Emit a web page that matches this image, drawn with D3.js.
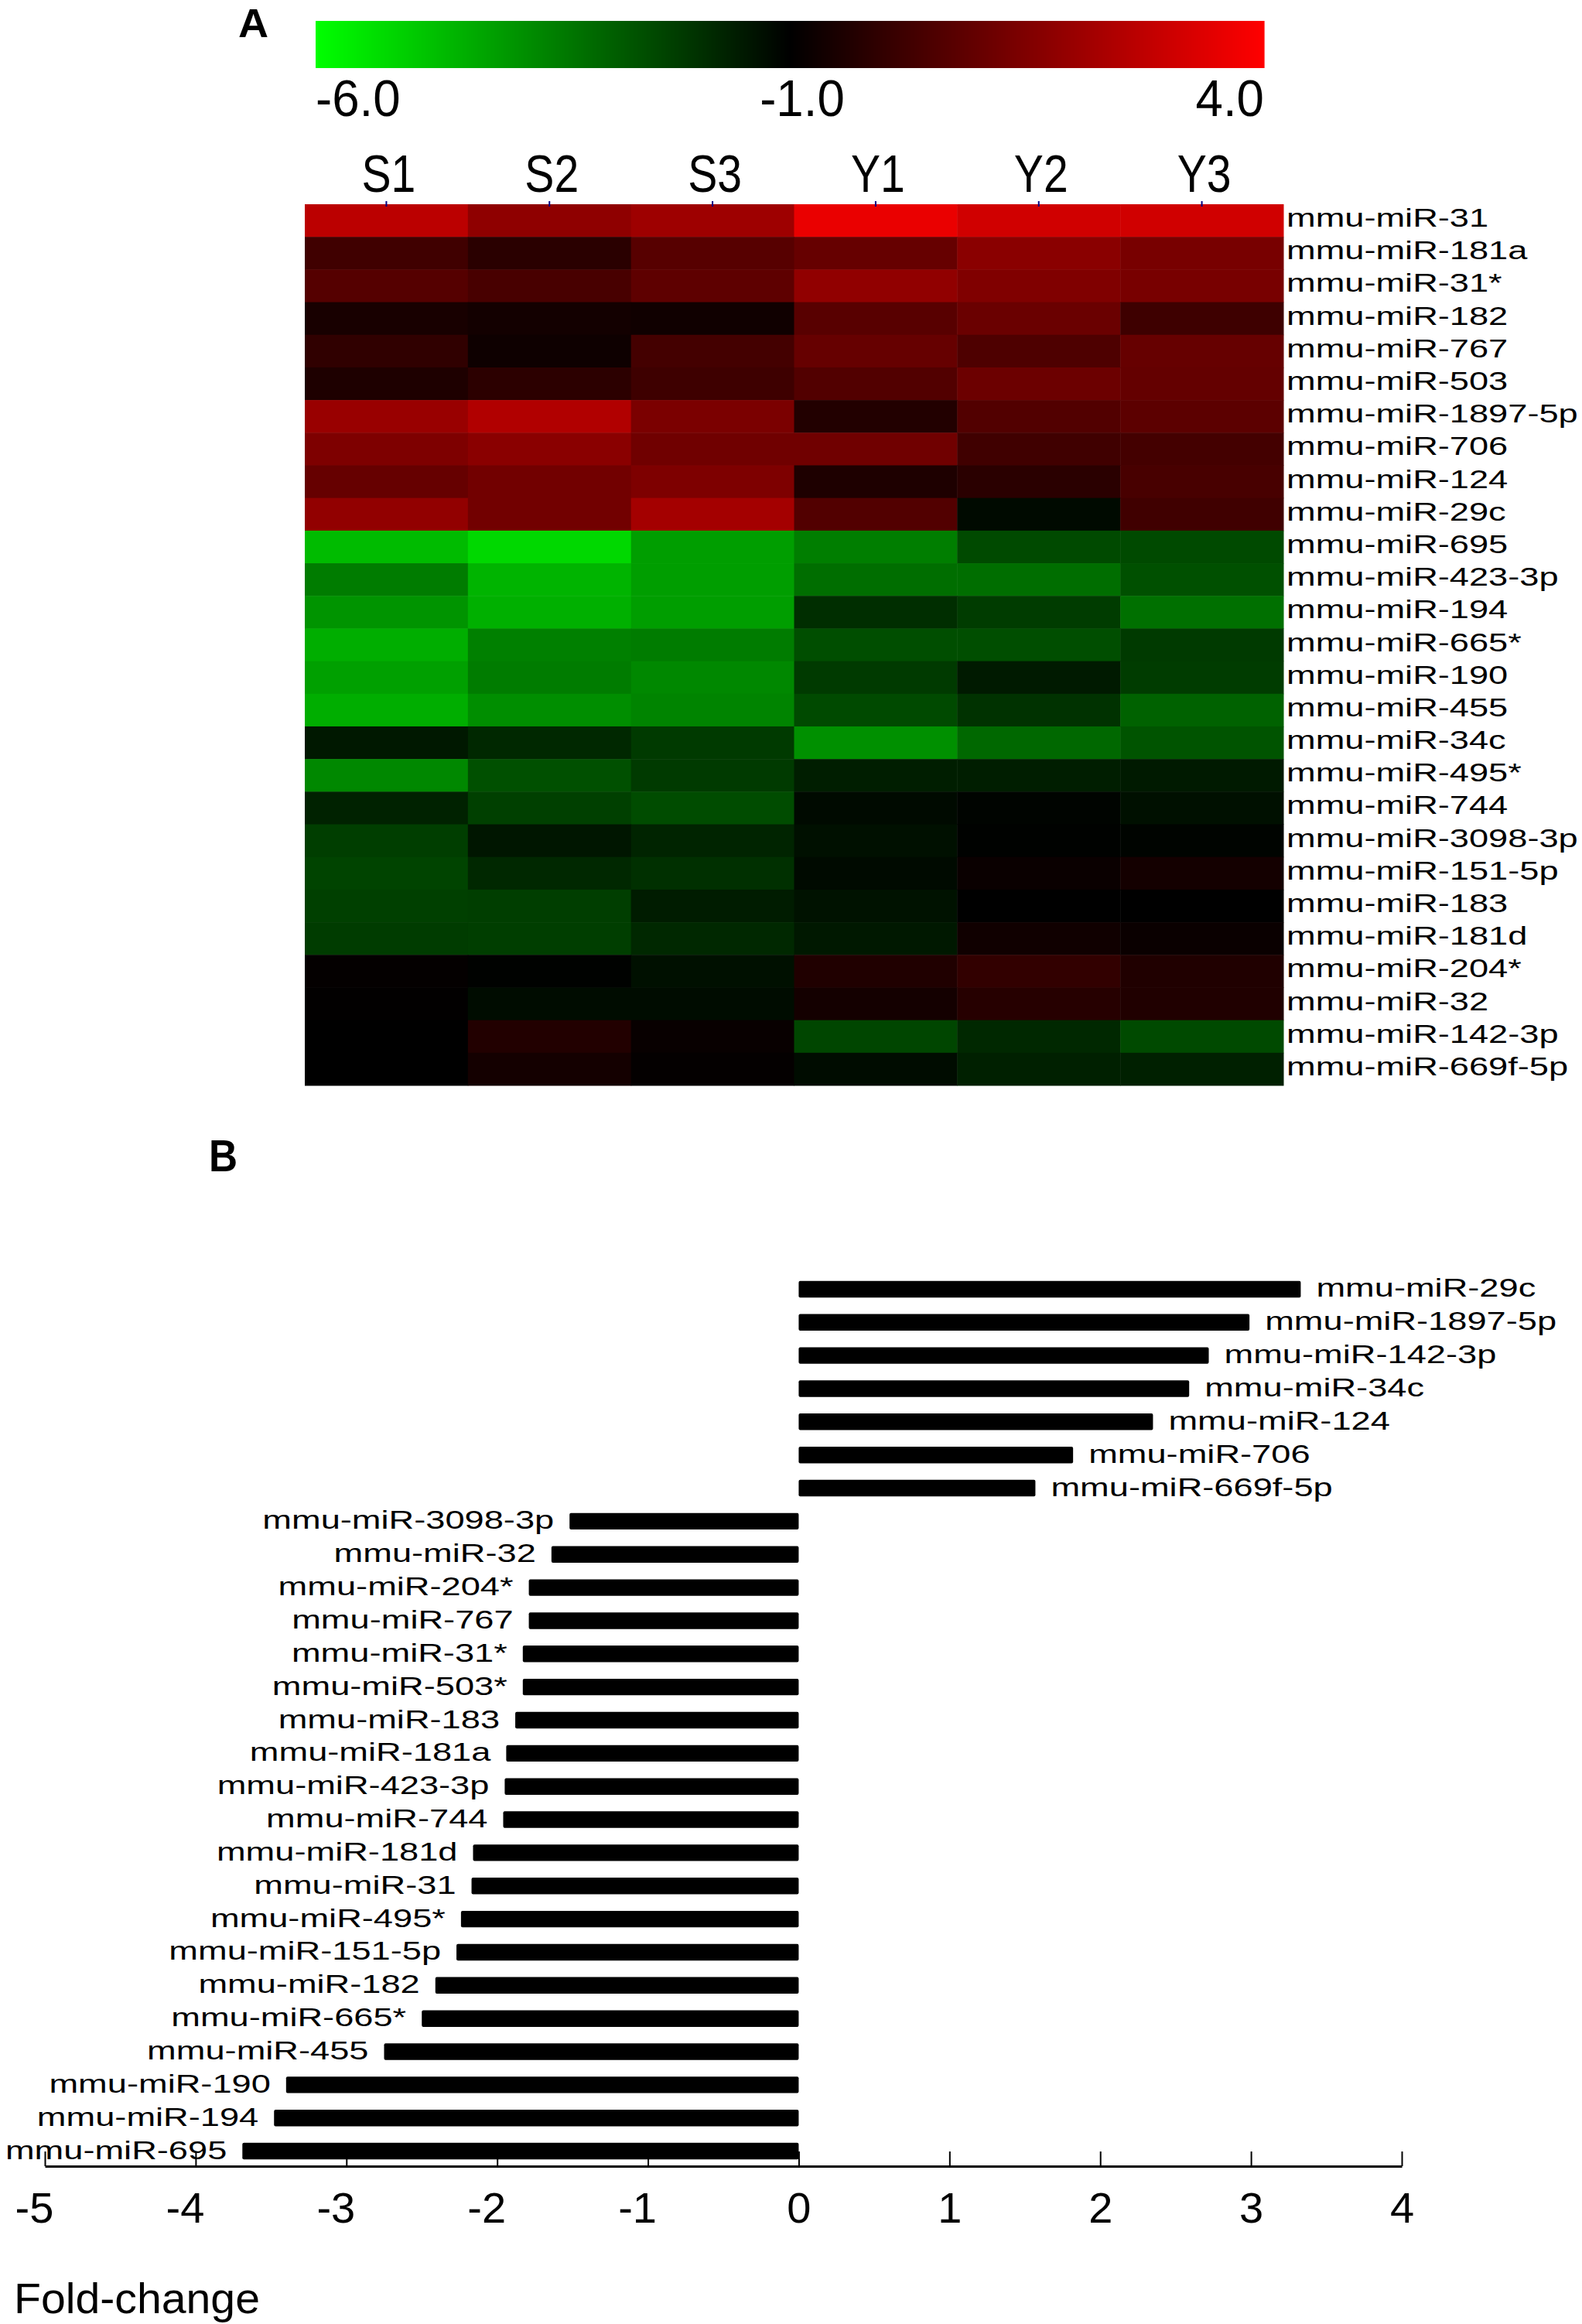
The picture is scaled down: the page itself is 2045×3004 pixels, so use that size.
<!DOCTYPE html>
<html>
<head>
<meta charset="utf-8">
<script src="https://cdn.jsdelivr.net/npm/d3@7"></script>
<style>
  html, body { margin: 0; padding: 0; background: #ffffff; }
  svg { display: block; }
  text { font-family: "Liberation Sans", Arial, sans-serif; fill: #000; }
</style>
</head>
<body>
<svg id="chart" width="2045" height="3004"></svg>
<script>
// ---------------- DATA ----------------
// Panel A: heatmap
const samples = ["S1", "S2", "S3", "Y1", "Y2", "Y3"];
const heatRows = ["mmu-miR-31","mmu-miR-181a","mmu-miR-31*","mmu-miR-182","mmu-miR-767","mmu-miR-503",
  "mmu-miR-1897-5p","mmu-miR-706","mmu-miR-124","mmu-miR-29c","mmu-miR-695","mmu-miR-423-3p",
  "mmu-miR-194","mmu-miR-665*","mmu-miR-190","mmu-miR-455","mmu-miR-34c","mmu-miR-495*",
  "mmu-miR-744","mmu-miR-3098-3p","mmu-miR-151-5p","mmu-miR-183","mmu-miR-181d","mmu-miR-204*",
  "mmu-miR-32","mmu-miR-142-3p","mmu-miR-669f-5p"];
const S1 = [2.67,0.25,0.67,-0.53,-0.06,-0.41,2.00,1.47,1.00,1.86,-4.67,-3.43,-3.90,-4.41,-4.14,-4.41,-1.47,-3.67,-1.67,-2.22,-2.33,-2.25,-2.18,-0.92,-0.96,-1.00,-1.00];
const S2 = [1.80,-0.18,0.41,-0.63,-0.73,-0.14,2.47,1.71,1.24,1.24,-5.24,-4.53,-4.45,-3.51,-3.43,-3.78,-1.78,-2.57,-2.25,-1.43,-1.78,-2.22,-2.22,-1.04,-1.24,-0.33,-0.61];
const S3 = [2.10,0.71,0.84,-0.69,0.33,0.22,1.41,1.20,1.47,2.22,-4.10,-4.10,-4.10,-3.43,-3.67,-3.59,-2.14,-2.14,-2.49,-1.71,-1.94,-1.55,-1.78,-1.31,-1.24,-0.84,-0.92];
const Y1 = [3.59,1.00,1.84,0.73,1.00,0.61,-0.33,1.20,-0.41,0.61,-3.47,-3.16,-1.90,-2.53,-2.14,-2.45,-3.82,-1.59,-1.20,-1.31,-1.20,-1.35,-1.47,-0.37,-0.61,-2.37,-1.24];
const Y2 = [3.08,1.71,1.51,1.08,0.53,1.12,0.61,0.25,-0.18,-1.20,-2.45,-3.16,-2.18,-2.53,-1.51,-1.98,-3.04,-1.59,-1.08,-1.04,-0.80,-1.00,-0.69,-0.02,-0.25,-1.78,-1.63];
const Y3 = [3.08,1.35,1.35,0.22,1.00,0.96,0.80,0.33,0.41,0.25,-2.45,-2.57,-3.20,-2.14,-2.18,-2.92,-2.65,-1.51,-1.31,-1.08,-0.61,-1.00,-0.80,-0.37,-0.37,-2.45,-1.63];
const colorStops = [-6, -1, 4];
const colorStopLabels = ["-6.0", "-1.0", "4.0"];

// Panel B: fold-change bars
const barLabels = ["mmu-miR-29c","mmu-miR-1897-5p","mmu-miR-142-3p","mmu-miR-34c","mmu-miR-124","mmu-miR-706",
  "mmu-miR-669f-5p","mmu-miR-3098-3p","mmu-miR-32","mmu-miR-204*","mmu-miR-767","mmu-miR-31*","mmu-miR-503*",
  "mmu-miR-183","mmu-miR-181a","mmu-miR-423-3p","mmu-miR-744","mmu-miR-181d","mmu-miR-31","mmu-miR-495*",
  "mmu-miR-151-5p","mmu-miR-182","mmu-miR-665*","mmu-miR-455","mmu-miR-190","mmu-miR-194","mmu-miR-695"];
const foldChange = [3.33,2.99,2.72,2.59,2.35,1.82,1.57,-1.52,-1.64,-1.79,-1.79,-1.83,-1.83,-1.88,-1.94,-1.95,-1.96,-2.16,-2.17,-2.24,-2.27,-2.41,-2.50,-2.75,-3.40,-3.48,-3.69];
const foldTicks = [-5,-4,-3,-2,-1,0,1,2,3,4];
const xAxisTitle = "Fold-change";

// ---------------- DRAW ----------------
const svg = d3.select("#chart");
const FONT = '"Liberation Sans", Arial, sans-serif';

function stext(parent, x, y, str, fs, sx, anchor, weight) {
  return parent.append("text")
    .attr("transform", `translate(${x},${y}) scale(${sx},1)`)
    .attr("text-anchor", anchor || "start")
    .attr("font-size", fs)
    .attr("font-weight", weight || "normal")
    .text(str);
}

// ---- Panel A ----
const sampleValues = [S1, S2, S3, Y1, Y2, Y3];
const cells = [];
heatRows.forEach((r, i) => samples.forEach((s, j) => cells.push({row: r, col: s, v: sampleValues[j][i]})));

const color = d3.scaleLinear().domain(colorStops).range(["#00ff00", "#000000", "#ff0000"]).clamp(true);
const xCol = d3.scaleBand().domain(samples).range([394, 1659]);
const yRow = d3.scaleBand().domain(heatRows).range([264, 1403]);

stext(svg, 308, 48, "A", 52, 1.04, "start", "bold");

// colour bar
const cbX = d3.scaleLinear().domain([colorStops[0], colorStops[2]]).range([408, 1634]);
const cbSteps = d3.range(0, 1226);
svg.append("g").selectAll("rect").data(cbSteps).join("rect")
  .attr("x", d => 408 + d)
  .attr("y", 27)
  .attr("width", 1.6)
  .attr("height", 61)
  .attr("fill", d => color(cbX.invert(408 + d + 0.5)));
const cbAnchor = ["start", "middle", "end"];
const cbDx = [0, 16, 0];
colorStops.forEach((v, i) => {
  stext(svg, cbX(v) + cbDx[i], 150, colorStopLabels[i], 67, 0.95, cbAnchor[i]);
});

// column labels
samples.forEach(s => stext(svg, xCol(s) + xCol.bandwidth() / 2 + 3, 248, s, 68, 0.84, "middle"));

// cells
svg.append("g").selectAll("rect").data(cells).join("rect")
  .attr("x", d => xCol(d.col))
  .attr("y", d => yRow(d.row))
  .attr("width", xCol.bandwidth() + 0.5)
  .attr("height", yRow.bandwidth() + 0.5)
  .attr("fill", d => color(d.v));

// small ticks at column centres
svg.append("g").selectAll("line").data(samples).join("line")
  .attr("x1", d => xCol(d) + xCol.bandwidth() / 2)
  .attr("x2", d => xCol(d) + xCol.bandwidth() / 2)
  .attr("y1", 260).attr("y2", 267)
  .attr("stroke", "#000080").attr("stroke-width", 2);

// row labels
heatRows.forEach(r => stext(svg, 1663, yRow(r) + yRow.bandwidth() / 2 + 8, r, 33, 1.37, "start"));

// ---- Panel B ----
stext(svg, 270, 1514, "B", 57, 0.9, "start", "bold");

const xFold = d3.scaleLinear().domain([-5, 4]).range([58, 1812]);
const yBar = d3.scaleBand().domain(barLabels).range([1645, 2802]).paddingInner(0.5).paddingOuter(0.25);

const bars = barLabels.map((l, i) => ({label: l, v: foldChange[i]}));
svg.append("g").selectAll("rect").data(bars).join("rect")
  .attr("x", d => xFold(Math.min(0, d.v)))
  .attr("y", d => yBar(d.label))
  .attr("width", d => Math.abs(xFold(d.v) - xFold(0)))
  .attr("height", yBar.bandwidth())
  .attr("rx", 2)
  .attr("fill", "#000");

bars.forEach(d => {
  const yc = yBar(d.label) + yBar.bandwidth() / 2 + 10;
  if (d.v >= 0) stext(svg, xFold(d.v) + 20, yc, d.label, 34, 1.33, "start");
  else stext(svg, xFold(d.v) - 20, yc, d.label, 34, 1.33, "end");
});

const axis = d3.axisBottom(xFold)
  .tickValues(foldTicks)
  .tickSizeInner(-19)
  .tickSizeOuter(0)
  .tickPadding(33)
  .tickFormat(d => String(d));
const gAxis = svg.append("g").attr("transform", "translate(0,2800)").call(axis);
gAxis.attr("font-family", FONT).attr("font-size", 56);
gAxis.select(".domain").attr("stroke", "#000").attr("stroke-width", 2.8);
gAxis.selectAll(".tick line").attr("stroke", "#000").attr("stroke-width", 2);
gAxis.selectAll(".tick text").attr("fill", "#000").attr("dx", d => d < 0 ? -14 : 0);

stext(svg, 18, 2990, xAxisTitle, 55, 1.04, "start");
</script>
</body>
</html>
